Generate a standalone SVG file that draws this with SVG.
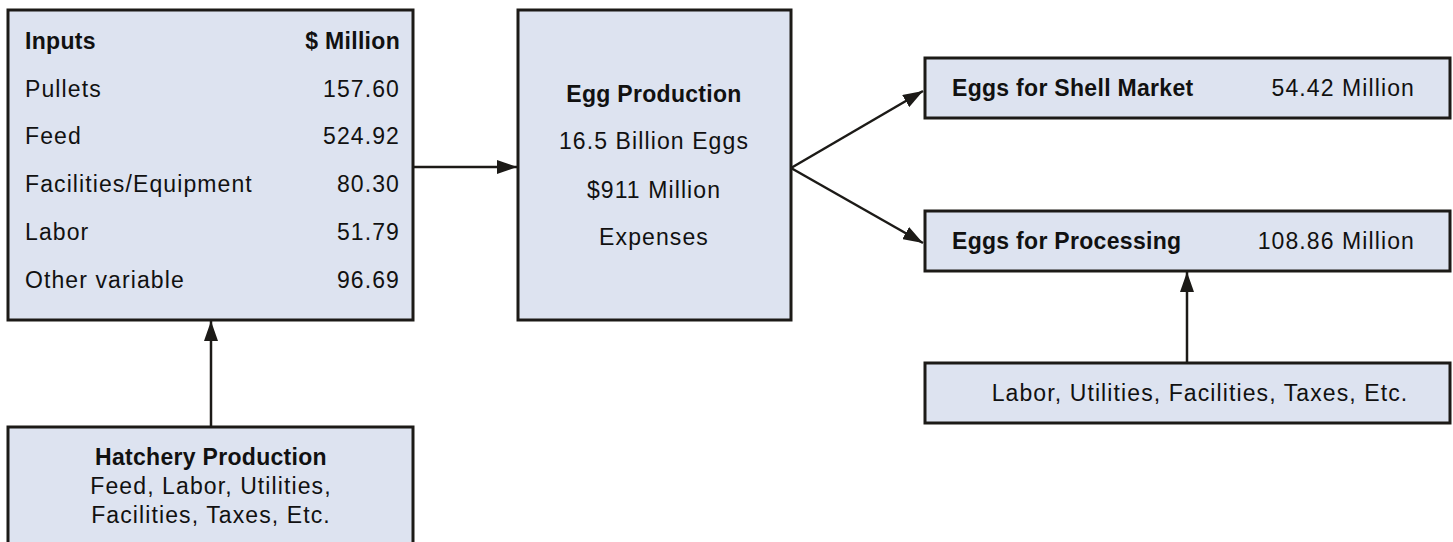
<svg xmlns="http://www.w3.org/2000/svg" width="1453" height="542" viewBox="0 0 1453 542">
<style>
.box{fill:#dde3f0;stroke:#1c1a17;stroke-width:3}
.t{font-family:"Liberation Sans",Arial,sans-serif;font-size:23px;fill:#111;letter-spacing:1.1px}
.b{font-weight:bold;letter-spacing:0.3px}
.c{text-anchor:middle}
.r{text-anchor:end}
.conn{stroke:#1c1a17;stroke-width:2.5;fill:none;marker-end:url(#ah)}
</style>
<defs>
<marker id="ah" viewBox="0 0 20 14" refX="20" refY="7" markerWidth="20" markerHeight="14" markerUnits="userSpaceOnUse" orient="auto">
<path d="M0,0 L20,7 L0,14 Z" fill="#1c1a17"/>
</marker>
</defs>
<rect width="1453" height="542" fill="#fff"/>
<g id="connectors">
<line class="conn" x1="413" y1="167" x2="517" y2="167"/>
<line class="conn" x1="791" y1="168" x2="923" y2="91"/>
<line class="conn" x1="791" y1="168" x2="923" y2="243"/>
<line class="conn" x1="211" y1="427" x2="211" y2="321"/>
<line class="conn" x1="1187" y1="363" x2="1187" y2="272"/>
</g>
<g id="inputs">
<rect class="box" x="8" y="10" width="405" height="310"/>
<text class="t b" x="25" y="49">Inputs</text>
<text class="t b r" x="400" y="49">$ Million</text>
<text class="t" x="25" y="97">Pullets</text>
<text class="t r" x="400" y="97">157.60</text>
<text class="t" x="25" y="144">Feed</text>
<text class="t r" x="400" y="144">524.92</text>
<text class="t" x="25" y="192">Facilities/Equipment</text>
<text class="t r" x="400" y="192">80.30</text>
<text class="t" x="25" y="240">Labor</text>
<text class="t r" x="400" y="240">51.79</text>
<text class="t" x="25" y="288">Other variable</text>
<text class="t r" x="400" y="288">96.69</text>
</g>
<g id="egg-production">
<rect class="box" x="518" y="10" width="273" height="310"/>
<text class="t b c" x="654" y="102">Egg Production</text>
<text class="t c" x="654" y="149">16.5 Billion Eggs</text>
<text class="t c" x="654" y="198">$911 Million</text>
<text class="t c" x="654" y="245">Expenses</text>
</g>
<g id="shell-market">
<rect class="box" x="925" y="58" width="525" height="60"/>
<text class="t b" x="952" y="96">Eggs for Shell Market</text>
<text class="t r" x="1415" y="96">54.42 Million</text>
</g>
<g id="processing">
<rect class="box" x="925" y="211" width="525" height="60"/>
<text class="t b" x="952" y="249">Eggs for Processing</text>
<text class="t r" x="1415" y="249">108.86 Million</text>
</g>
<g id="processing-costs">
<rect class="box" x="925" y="363" width="525" height="60"/>
<text class="t c" x="1200" y="401">Labor, Utilities, Facilities, Taxes, Etc.</text>
</g>
<g id="hatchery">
<rect class="box" x="8" y="427" width="405" height="120"/>
<text class="t b c" x="211" y="465">Hatchery Production</text>
<text class="t c" x="211" y="494">Feed, Labor, Utilities,</text>
<text class="t c" x="211" y="523">Facilities, Taxes, Etc.</text>
</g>
</svg>
